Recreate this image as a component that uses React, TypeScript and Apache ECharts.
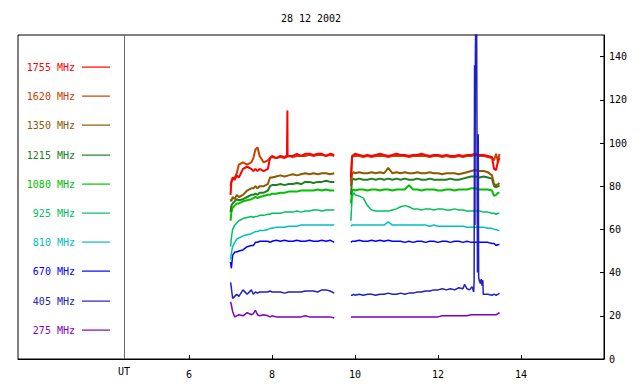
import React, { useEffect, useRef } from "react";
import * as echarts from "echarts";

const TITLE = "28 12 2002";
const FREQS = ["1755 MHz", "1620 MHz", "1350 MHz", "1215 MHz", "1080 MHz", "925 MHz", "810 MHz", "670 MHz", "405 MHz", "275 MHz"];
const COLORS = ["#ff0000", "#c84000", "#8c5a00", "#208020", "#00c000", "#00c060", "#00c0c0", "#0000ff", "#2020c0", "#8000c0"];
const X_TICKS = [6, 8, 10, 12, 14];
const Y_TICKS = [0, 20, 40, 60, 80, 100, 120, 140];
const UT_TIME = 4.44;
const GAP_TIME = 9.7;

// first observing segment (UT hours)
const T1 = [7.0, 7.02, 7.05, 7.1, 7.15, 7.2, 7.3, 7.4, 7.5, 7.55, 7.6, 7.65, 7.7, 7.8, 7.9, 7.95, 8.0, 8.1, 8.2, 8.3, 8.4, 8.5, 8.6, 8.7, 8.8, 8.9, 9.0, 9.1, 9.2, 9.3, 9.4, 9.5];
// second observing segment (UT hours)
const T2 = [9.9, 9.93, 9.97, 10.0, 10.1, 10.2, 10.3, 10.4, 10.5, 10.6, 10.7, 10.8, 10.9, 11.0, 11.1, 11.2, 11.3, 11.4, 11.5, 11.6, 11.7, 11.8, 11.9, 12.0, 12.1, 12.2, 12.3, 12.4, 12.5, 12.6, 12.7, 12.8, 12.9, 13.0, 13.1, 13.2, 13.3, 13.35, 13.4, 13.45, 13.48];

const F1755_A = [76, 82, 84, 83, 85, 84, 88, 89, 88, 87, 88, 87, 88, 87, 88, 93, 94, 93, 94, 93.5, 94, 94, 95, 94, 95, 95, 94.5, 95, 95, 94, 95, 94.5];
const F1755_B = [84, 94, 94.5, 95, 94.5, 94, 94.5, 94, 94.5, 95, 94.5, 94, 94.5, 95, 94.5, 94.5, 94, 94.5, 94.5, 95, 94.5, 94, 94.5, 94.5, 94, 94.5, 94, 94, 94.5, 94, 94.5, 94.5, 95, 94.5, 94.5, 94, 93.5, 88, 87.5, 92, 93];
const F1755_SPIKE = [[8.36, 94], [8.37, 115], [8.375, 94]];

const F1620_A = [80, 82, 83, 84, 86, 90, 91, 90, 91, 93, 97, 98, 94, 91, 92, 93, 93.5, 93, 93.5, 93, 94, 93.5, 94, 94, 94, 94.5, 94, 94.5, 94.5, 94, 94.5, 94];
const F1620_B = [82, 93.5, 94, 94, 94, 93.5, 94, 93.5, 94, 94, 94, 93.5, 94, 94, 94, 94, 93.5, 94, 94, 94, 94, 93.5, 94, 94, 93.5, 94, 93.5, 93.5, 94, 93.5, 94, 94, 94.5, 94, 94, 93.5, 93, 92, 95, 91, 95];

const F1350_A = [74, 73, 75, 74, 76, 75, 76, 78, 79, 79, 80, 79, 80, 80, 81, 84, 84, 84.5, 85, 84.5, 85, 85.5, 85, 85.5, 86, 85.5, 86, 85.5, 86, 86, 85.5, 86];
const F1350_B = [80, 86, 86.5, 86, 86.5, 86, 86, 86.5, 86, 86.5, 86, 88.5, 86, 86.5, 86, 86.5, 86, 86, 86.5, 86, 86, 86.5, 86, 86, 85.5, 86, 86, 86, 85.5, 86, 86.5, 87, 87.5, 87, 87, 86.5, 85, 81, 80.5, 81, 81.5];

const F1215_A = [68, 71, 72, 73, 74, 73.5, 74, 75, 76, 76, 76.5, 76, 77, 77, 78, 80, 80.5, 80.5, 81, 80.5, 81, 81, 81.5, 81, 82, 82, 81.5, 82, 82, 82.5, 82, 82];
const F1215_B = [76, 83, 83.5, 83, 83.5, 83, 83, 83.5, 83, 83.5, 83, 83.5, 83, 83.5, 83, 83.5, 83, 83, 83.5, 83, 83, 83.5, 83, 83, 83, 83, 83.5, 83, 83, 83.5, 84, 84.5, 84.5, 84, 84.5, 84, 83.5, 80, 79.5, 80, 80.5];

const F1080_A = [64, 68, 70, 71, 72, 72, 73, 73.5, 74, 74.5, 75, 74.5, 75, 75.5, 76, 76, 76.5, 76.5, 77, 77, 77.5, 77.5, 77.5, 78, 78, 78, 78, 78.5, 78, 78.5, 78, 78];
const F1080_B = [72, 78, 78.5, 78, 78.5, 78.5, 78, 78.5, 78.5, 78, 78.5, 78.5, 78, 78.5, 78.5, 78.5, 80.5, 78.5, 78.5, 78, 78.5, 78.5, 78.5, 78, 78, 78.5, 78.5, 78, 78.5, 78.5, 78.5, 79, 79, 78.5, 78.5, 78.5, 78, 75.5, 76, 77, 77];

const F925_A = [52, 56, 60, 62, 63, 64, 65, 65.5, 66, 65.5, 66, 66, 66.5, 66.5, 67, 67, 67.5, 67.5, 67.5, 68, 68, 68, 68.5, 68, 68.5, 68.5, 69, 69, 68.5, 69, 69, 69];
const F925_B = [64, 75, 77, 76, 75.5, 74.5, 71, 69, 68.5, 68.5, 68.5, 68.5, 69, 69.5, 70.5, 71, 70.5, 69.5, 69.5, 69, 69.5, 69.5, 69, 69.5, 69.5, 69, 69, 69.5, 69, 69, 68.5, 68.5, 68.5, 68.5, 68, 68, 67.5, 67.5, 67, 67.5, 67.5];

const F810_A = [46, 49, 52, 54, 55.5, 56, 57, 57.5, 58, 58.5, 59, 59, 59.5, 59.5, 60, 60.5, 60.5, 61, 61, 61, 61.5, 61.5, 61.5, 62, 62, 62, 62, 62, 62, 62, 62, 62];
const F810_B = [61.5, 62, 62, 62, 62, 62, 62, 62, 62, 62, 62, 63.5, 62, 62, 62, 62, 62, 62, 62, 62, 62, 61.5, 62, 61.5, 61.5, 61.5, 61.5, 61.5, 61.5, 61.5, 61, 61, 61, 61, 61, 60.5, 60.5, 60, 60, 59.5, 59.5];

const F670_A = [45, 42, 48, 49.5, 49.5, 50, 50.5, 52, 52.5, 52.5, 54, 54, 54.5, 54.5, 54.5, 54, 54.5, 55, 54.5, 55, 54.5, 54.5, 55, 54.5, 54.5, 55, 54.5, 54.5, 55, 54.5, 55, 54];
const F670_B = [54, 54.5, 54.5, 54.5, 55, 54.5, 54.5, 55, 54.5, 55, 54.5, 55, 54.5, 54.5, 54.5, 54, 54.5, 54, 54.5, 54.5, 54, 54.5, 54.5, 54, 54.5, 54.5, 54, 54.5, 54.5, 54, 54.5, 54, 54, 54, 54, 54, 53.5, 53.5, 52.5, 53, 53];

const F405_A = [35.5, 33, 28, 29, 30, 29, 32, 30, 32, 30, 31, 30.5, 31, 31, 31, 31.5, 31, 31, 31, 30.5, 31, 31, 31, 31, 31.5, 31.5, 31.5, 31, 32, 32, 31.5, 30.5];
const F405_B = [29.5, 29.5, 30, 29.5, 30, 29.5, 30, 30, 29.5, 30, 30, 30.5, 30, 30, 30.5, 30, 30.5, 30.5, 31, 31, 31.5, 31.5, 32, 32, 32.5, 32, 32.5, 32, 33, 32.5, 32.5, 33, 140, 36, 30, 30, 29.5, 30, 29.5, 30, 30.5];
const F405_SPIKE = [[12.64, 34.5], [12.76, 32], [12.82, 33.5], [12.86, 31], [12.87, 36], [12.88, 136], [12.89, 62], [12.91, 160], [12.93, 160], [12.95, 40], [12.97, 104], [12.98, 37.5], [13.02, 35], [13.04, 37], [13.06, 34], [13.08, 36.5], [13.09, 30]];

const F275_A = [26.5, 25, 22, 19.5, 20, 20.5, 20, 21.5, 20.5, 21, 22.5, 20.5, 20, 20.5, 20, 19.5, 20, 19.5, 19.5, 19.5, 19.5, 19.5, 19.5, 19.5, 20, 19.5, 19.5, 19.5, 19.5, 19.5, 19.5, 19];
const F275_B = [19.5, 19.5, 19.5, 19.5, 19.5, 19.5, 19.5, 19.5, 19.5, 19.5, 19.5, 19.5, 19.5, 19.5, 19.5, 19.5, 19.5, 19.5, 19.5, 19.5, 19.5, 19.5, 19.5, 19.5, 20, 20, 20, 20, 20, 20, 20, 20.5, 20.5, 20.5, 20.5, 20.5, 20.5, 20.5, 20.5, 21, 21.5];

const SERIES_A = [F1755_A, F1620_A, F1350_A, F1215_A, F1080_A, F925_A, F810_A, F670_A, F405_A, F275_A];
const SERIES_B = [F1755_B, F1620_B, F1350_B, F1215_B, F1080_B, F925_B, F810_B, F670_B, F405_B, F275_B];
const SERIES_EXTRA: number[][][] = [F1755_SPIKE, [], [], [], [], [], [], [], F405_SPIKE, []];

const FONT = "DejaVu Sans Mono";

function buildData(a: number[], b: number[], extra: number[][]) {
  const pts: any[] = [];
  T1.forEach((t, i) => pts.push([t, a[i]]));
  T2.forEach((t, i) => pts.push([t, b[i]]));
  extra.forEach((p) => pts.push([p[0], p[1]]));
  pts.push([GAP_TIME, "-"]);
  pts.sort((p, q) => p[0] - q[0]);
  return pts;
}

export default function App() {
  const ref = useRef<HTMLDivElement>(null);
  useEffect(() => {
    if (!ref.current) return;
    const chart = echarts.init(ref.current, null, { renderer: "svg" });
    const drawOrder = [9, 7, 6, 5, 4, 3, 2, 1, 0, 8];
    const series = drawOrder.map((i) => ({
      type: "line",
      name: FREQS[i],
      data: buildData(SERIES_A[i], SERIES_B[i], SERIES_EXTRA[i]),
      showSymbol: false,
      symbol: "none",
      silent: true,
      clip: true,
      connectNulls: false,
      lineStyle: { color: COLORS[i], width: i < 5 ? 2 : 1.5 },
      itemStyle: { color: COLORS[i] },
    }));
    const legendGraphics: any[] = [];
    FREQS.forEach((f, i) => {
      const y = Math.round(67 + i * 29.2);
      legendGraphics.push({
        type: "text",
        x: 75,
        y,
        style: { text: f, fill: COLORS[i], font: `10px "${FONT}"`, textAlign: "right", textVerticalAlign: "middle" },
      });
      legendGraphics.push({
        type: "rect",
        shape: { x: 82, y: y - 0.5, width: 28, height: 1.2 },
        style: { fill: COLORS[i] },
      });
    });
    chart.setOption({
      animation: false,
      backgroundColor: "#ffffff",
      grid: { left: 18, right: 36, top: 35, bottom: 25, show: true, borderColor: "#000", borderWidth: 1, backgroundColor: "transparent" },
      xAxis: {
        type: "value",
        min: 1.878,
        max: 16,
        axisLine: { show: true, onZero: false, lineStyle: { color: "#000", width: 1 } },
        axisTick: { show: true, inside: true, length: 4, customValues: X_TICKS, lineStyle: { color: "#000" } },
        axisLabel: { customValues: X_TICKS, fontFamily: FONT, fontSize: 10, color: "#000", margin: 10 },
        splitLine: { show: false },
      },
      yAxis: {
        type: "value",
        position: "right",
        min: 0,
        max: 150,
        axisLine: { show: true, onZero: false, lineStyle: { color: "#000", width: 1 } },
        axisTick: { show: true, inside: true, length: 4, customValues: Y_TICKS, lineStyle: { color: "#000" } },
        axisLabel: { customValues: Y_TICKS, fontFamily: FONT, fontSize: 10, color: "#000", margin: 5 },
        splitLine: { show: false },
      },
      series: [
        ...series,
        {
          type: "line",
          data: [],
          silent: true,
          markLine: {
            silent: true,
            symbol: "none",
            label: { show: false },
            lineStyle: { color: "#666", type: "solid", width: 1 },
            data: [{ xAxis: UT_TIME }],
          },
        },
      ],
      graphic: [
        {
          type: "text",
          x: 311,
          y: 18,
          style: { text: TITLE, fill: "#000", font: `10px "${FONT}"`, textAlign: "center", textVerticalAlign: "middle" },
        },
        {
          type: "text",
          x: 124,
          y: 371,
          style: { text: "UT", fill: "#000", font: `10px "${FONT}"`, textAlign: "center", textVerticalAlign: "middle" },
        },
        ...legendGraphics,
      ],
    });
    return () => chart.dispose();
  }, []);
  return <div ref={ref} style={{ position: "fixed", left: 0, top: 0, width: 640, height: 384, background: "#fff" }} />;
}
